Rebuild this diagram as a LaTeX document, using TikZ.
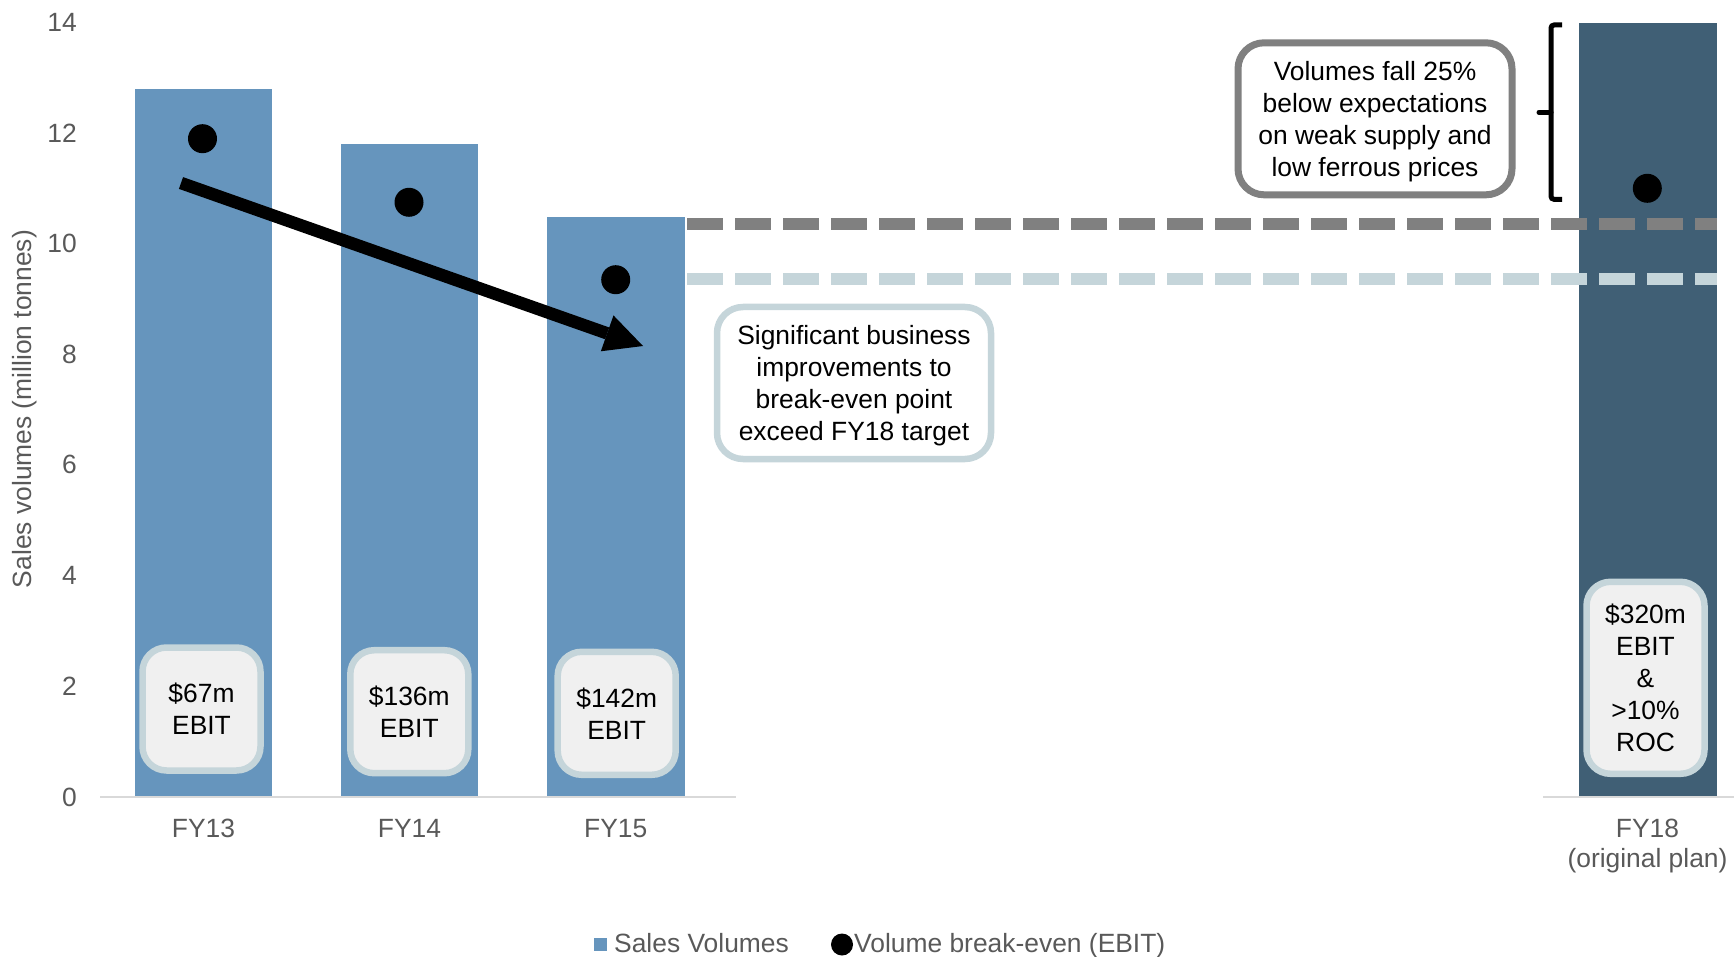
\documentclass[tikz,border=0pt]{standalone}
\usepackage{fontspec}
\setmainfont{Liberation Sans}
\usetikzlibrary{arrows.meta}
\definecolor{barblue}{HTML}{6695BD}
\definecolor{bardark}{HTML}{405F75}
\definecolor{dashdark}{HTML}{808080}
\definecolor{dashlight}{HTML}{C5D5DA}
\definecolor{boxfill}{HTML}{F0F0F0}
\definecolor{axisgray}{HTML}{595959}
\definecolor{axisline}{HTML}{D9D9D9}
\begin{document}
\begin{tikzpicture}[x=1pt,y=-1pt,
  every node/.style={font=\fontsize{26.4}{32}\selectfont, inner sep=0pt},
  ticklbl/.style={text=axisgray, anchor=east},
  catlbl/.style={text=axisgray, anchor=base},
  ebitbox/.style={draw=dashlight, fill=boxfill, line width=6.5pt, rounded corners=24pt, align=center, text=black, minimum width=118pt, text depth=0pt},
  notebox/.style={fill=white, line width=6.5pt, rounded corners=26pt, align=center, text=black, minimum width=274pt, minimum height=152pt, text depth=0pt},
  bedot/.style={circle, fill=black, minimum size=29pt},
  dashline/.style={line width=12pt, dash pattern=on 36pt off 12pt},
  ]
\useasboundingbox (0,0) rectangle (1734,957);
% bars
\fill[barblue] (135,797) rectangle (272,89.3);
\fill[barblue] (341,797) rectangle (478,144.3);
\fill[barblue] (547,797) rectangle (684.6,216.7);
\fill[bardark] (1579,797) rectangle (1717,22.7);
% axis
\draw[axisline, line width=2pt] (100,797) -- (736,797);
\draw[axisline, line width=2pt] (1543,797) -- (1734,797);
\foreach \v in {0,2,...,14}
  \node[ticklbl] at (77,{797-55.35*\v}) {\v};
\node[text=axisgray, rotate=90] (ytitle) at (25,409) {Sales volumes (million tonnes)};
\node[catlbl] (c13) at (203.5,837) {FY13};
\node[catlbl] (c14) at (409.5,837) {FY14};
\node[catlbl] (c15) at (615.7,837) {FY15};
\node[catlbl] (c18) at (1647.5,837) {FY18};
\node[catlbl] (c18b) at (1647.5,867) {(original plan)};
% dashed levels
\draw[dashline, dashdark] (687,224.2) -- (1717,224.2);
\draw[dashline, dashlight] (687,279.2) -- (1717,279.2);
% break-even dots
\node[bedot] (d13) at (202.5,138.7) {};
\node[bedot] (d14) at (409,202.3) {};
\node[bedot] (d15) at (615.7,279.7) {};
\node[bedot] (d18) at (1647.3,188.3) {};
% trend arrow
\coordinate (astart) at (181,183);
\coordinate (aend) at (643,346);
\draw[line width=12.5pt, -{Triangle[length=38pt,width=38pt,line width=0pt]}] (astart) -- (aend);
% EBIT boxes
\node[ebitbox, minimum height=123pt] (e13) at (201.5,709) {\$67m\\EBIT};
\node[ebitbox, minimum height=123pt] (e14) at (409.3,711.7) {\$136m\\EBIT};
\node[ebitbox, minimum height=123pt] (e15) at (616.7,713.3) {\$142m\\EBIT};
\node[ebitbox, minimum height=192pt] (e18) at (1645.5,677.8) {\$320m\\EBIT\\\&\\>10\%\\ROC};
% notes
\node[notebox, draw=dashlight] (notesig) at (854,383) {Significant business\\improvements to\\break-even point\\exceed FY18 target};
\node[notebox, draw=dashdark, line width=7pt] (notevol) at (1375,118.8) {Volumes fall 25\%\\below expectations\\on weak supply and\\low ferrous prices};
% brace
\coordinate (btop) at (1562,25);
\coordinate (btopc) at (1551,25);
\coordinate (bbotc) at (1551,199.3);
\coordinate (bbot) at (1562,199.3);
\coordinate (bmid) at (1551,112.3);
\coordinate (btip) at (1539,112.3);
\draw[line width=5pt, rounded corners=3pt] (btop) -- (btopc) -- (bbotc) -- (bbot);
\draw[line width=5pt, line cap=round] (bmid) -- (btip);
% legend
\fill[barblue] (594,938) rectangle (607,950.5);
\node[anchor=base west, text=axisgray] (leg1) at (614,952) {Sales Volumes};
\node[bedot, minimum size=22pt] (legdot) at (842,944.5) {};
\node[anchor=base west, text=axisgray] (leg2) at (854,952) {Volume break-even (EBIT)};
\end{tikzpicture}
\end{document}
